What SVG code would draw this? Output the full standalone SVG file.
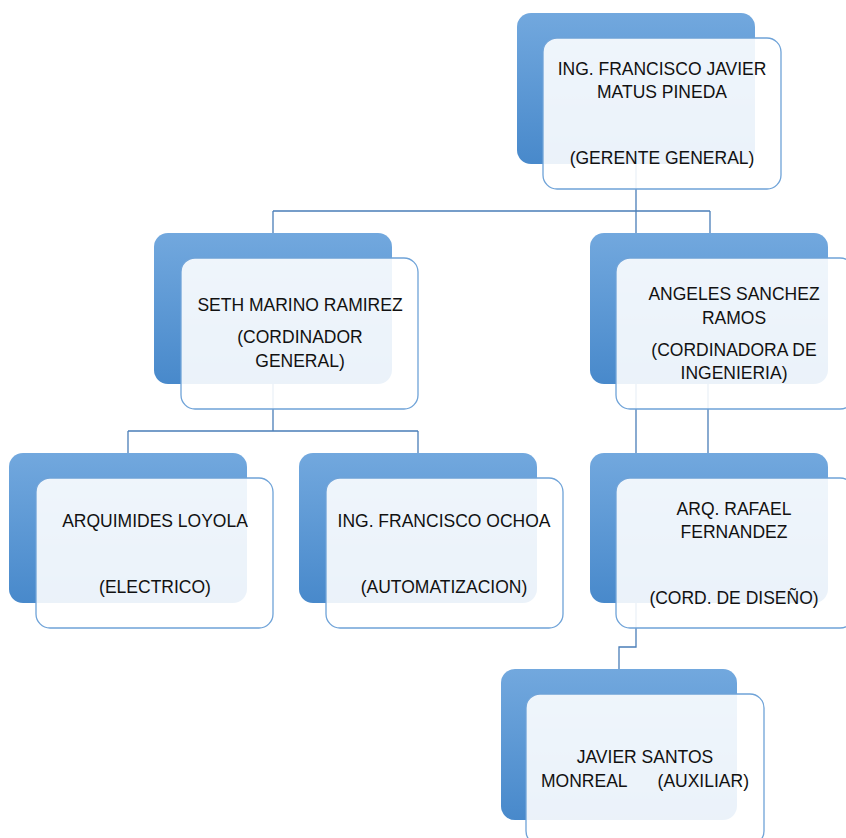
<svg xmlns="http://www.w3.org/2000/svg" width="846" height="838" viewBox="0 0 846 838">
<defs>
<linearGradient id="g" x1="0" y1="0" x2="0" y2="1">
<stop offset="0" stop-color="#72a8de"/>
<stop offset="1" stop-color="#4889cb"/>
</linearGradient>
<style>
.back{fill:url(#g);}
.front{fill:#ffffff;fill-opacity:0.89;stroke:#6fa3d8;stroke-width:1.3;}
.conn{fill:none;stroke:#4a7eb8;stroke-width:1.3;}
text{font-family:"Liberation Sans",Arial,sans-serif;font-size:17.5px;fill:#111111;text-anchor:middle;}
</style>
</defs>
<rect width="846" height="838" fill="#ffffff"/>
<g id="connectors">
<path class="conn" d="M636,164 V211 M273,211 H710 M273,211 V233 M636,211 V233 M710,211 V233"/>
<path class="conn" d="M273,384 V431 M128,431 H418 M128,431 V453 M418,431 V453"/>
<path class="conn" d="M636,384 V453 M708,384 V453"/>
<path class="conn" d="M636,603 V647 H619 V669"/>
</g>
<g id="node-gerente">
<rect class="back" x="517" y="13" width="238" height="151" rx="14"/>
<rect class="front" x="543" y="38" width="238" height="151" rx="14"/>
<text x="662" y="75">ING. FRANCISCO JAVIER</text>
<text x="662" y="98">MATUS PINEDA</text>
<text x="662" y="164">(GERENTE GENERAL)</text>
</g>
<g id="node-seth">
<rect class="back" x="154" y="233" width="238" height="151" rx="14"/>
<rect class="front" x="181" y="258" width="237" height="151" rx="14"/>
<text x="300" y="311">SETH MARINO RAMIREZ</text>
<text x="300" y="343">(CORDINADOR</text>
<text x="300" y="367">GENERAL)</text>
</g>
<g id="node-angeles">
<rect class="back" x="590" y="233" width="238" height="151" rx="14"/>
<rect class="front" x="616" y="258" width="238" height="151" rx="14"/>
<text x="734" y="300">ANGELES SANCHEZ</text>
<text x="734" y="324">RAMOS</text>
<text x="734" y="356">(CORDINADORA DE</text>
<text x="734" y="379">INGENIERIA)</text>
</g>
<g id="node-arquimides">
<rect class="back" x="9" y="453" width="238" height="150" rx="14"/>
<rect class="front" x="36" y="478" width="237" height="150" rx="14"/>
<text x="155" y="527">ARQUIMIDES LOYOLA</text>
<text x="155" y="593">(ELECTRICO)</text>
</g>
<g id="node-ochoa">
<rect class="back" x="299" y="453" width="238" height="150" rx="14"/>
<rect class="front" x="326" y="478" width="237" height="150" rx="14"/>
<text x="444" y="527">ING. FRANCISCO OCHOA</text>
<text x="444" y="593">(AUTOMATIZACION)</text>
</g>
<g id="node-rafael">
<rect class="back" x="590" y="453" width="238" height="150" rx="14"/>
<rect class="front" x="616" y="478" width="238" height="150" rx="14"/>
<text x="734" y="515">ARQ. RAFAEL</text>
<text x="734" y="538">FERNANDEZ</text>
<text x="734" y="604">(CORD. DE DISEÑO)</text>
</g>
<g id="node-javier">
<rect class="back" x="501" y="669" width="236" height="151" rx="14"/>
<rect class="front" x="526" y="694" width="238" height="151" rx="14"/>
<text x="645" y="763">JAVIER SANTOS</text>
<text x="645" y="787">MONREAL<tspan dx="30">(AUXILIAR)</tspan></text>
</g>
</svg>
